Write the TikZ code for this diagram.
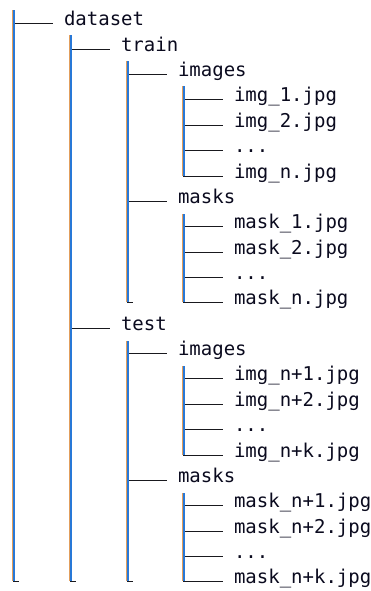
\documentclass[tikz,border=0pt]{standalone}
\usepackage{fontspec}
\setmonofont{DejaVu Sans Mono}

\definecolor{treeink}{RGB}{25,25,30}
\definecolor{textink}{RGB}{10,10,30}
\definecolor{railorange}{RGB}{226,158,92}
\definecolor{railblue}{RGB}{40,120,215}

\tikzset{
  entry/.style={anchor=mid west, inner xsep=11.5pt, inner ysep=0pt, outer sep=0pt,
    font=\ttfamily\fontsize{19}{19}\selectfont, text=textink},
  branch/.style={draw=treeink, line width=1.9pt},
}

% column of a depth and centre line of a row, snapped to whole pixels
\newcommand\colx[1]{round(13.3+56.7*#1)}
\newcommand\rowy[1]{round(23.3+25.37*#1)+0.5}

% entry: name, depth, row, label
\newcommand\tentry[4]{%
  \coordinate (#1-j) at ({\colx{#2}},{\rowy{#3}});
  \node[entry] (#1) at ({\colx{#2}+39.5},{\rowy{#3}}) {#4};
  \draw[branch] (#1-j) -- (#1.mid west);
}
% vertical rail between two named points: an orange and a blue strip side by side
\newcommand\trail[2]{%
  \fill[railorange] ([xshift=-1.5pt]#1) rectangle ([yshift=0.9pt]#2);
  \fill[railblue] (#1) rectangle ([xshift=1.5pt,yshift=0.9pt]#2);
}
% rail top (depth, parent row) and open bottom end with its foot (name, depth, row)
\newcommand\railtop[3]{\coordinate (#1) at ({\colx{#2}},{\rowy{#3}+12});}
\newcommand\railend[3]{%
  \coordinate (#1) at ({\colx{#2}},{\rowy{#3}});
  \coordinate (#1-foot) at ({\colx{#2}+6},{\rowy{#3}});
}

\begin{document}
\begin{tikzpicture}[x=1pt, y=-1pt]
  \useasboundingbox (0,0) rectangle (371,591);

  \tentry{dataset}{0}{0}{dataset}
  \tentry{train}{1}{1}{train}
  \tentry{trimg}{2}{2}{images}
  \tentry{trimg1}{3}{3}{img\_1.jpg}
  \tentry{trimg2}{3}{4}{img\_2.jpg}
  \tentry{trimg3}{3}{5}{...}
  \tentry{trimg4}{3}{6}{img\_n.jpg}
  \tentry{trmsk}{2}{7}{masks}
  \tentry{trmsk1}{3}{8}{mask\_1.jpg}
  \tentry{trmsk2}{3}{9}{mask\_2.jpg}
  \tentry{trmsk3}{3}{10}{...}
  \tentry{trmsk4}{3}{11}{mask\_n.jpg}
  \tentry{test}{1}{12}{test}
  \tentry{teimg}{2}{13}{images}
  \tentry{teimg1}{3}{14}{img\_n+1.jpg}
  \tentry{teimg2}{3}{15}{img\_n+2.jpg}
  \tentry{teimg3}{3}{16}{...}
  \tentry{teimg4}{3}{17}{img\_n+k.jpg}
  \tentry{temsk}{2}{18}{masks}
  \tentry{temsk1}{3}{19}{mask\_n+1.jpg}
  \tentry{temsk2}{3}{20}{mask\_n+2.jpg}
  \tentry{temsk3}{3}{21}{...}
  \tentry{temsk4}{3}{22}{mask\_n+k.jpg}

  % rail tops and open bottom ends
  \coordinate (r0-top) at ({\colx{0}},10);
  \railend{r0-end}{0}{22}
  \railtop{r1-top}{1}{0}
  \railend{r1-end}{1}{22}
  \railtop{r2a-top}{2}{1}
  \railend{r2a-end}{2}{11}
  \railtop{r2b-top}{2}{12}
  \railend{r2b-end}{2}{22}
  \railtop{r3a-top}{3}{2}
  \railtop{r3b-top}{3}{7}
  \railtop{r3c-top}{3}{13}
  \railtop{r3d-top}{3}{18}

  \trail{r0-top}{r0-end}
  \trail{r1-top}{r1-end}
  \trail{r2a-top}{r2a-end}
  \trail{r2b-top}{r2b-end}
  \trail{r3a-top}{trimg4-j}
  \trail{r3b-top}{trmsk4-j}
  \trail{r3c-top}{teimg4-j}
  \trail{r3d-top}{temsk4-j}

  \draw[branch] (r0-end) -- (r0-end-foot);
  \draw[branch] (r1-end) -- (r1-end-foot);
  \draw[branch] (r2a-end) -- (r2a-end-foot);
  \draw[branch] (r2b-end) -- (r2b-end-foot);
\end{tikzpicture}
\end{document}
